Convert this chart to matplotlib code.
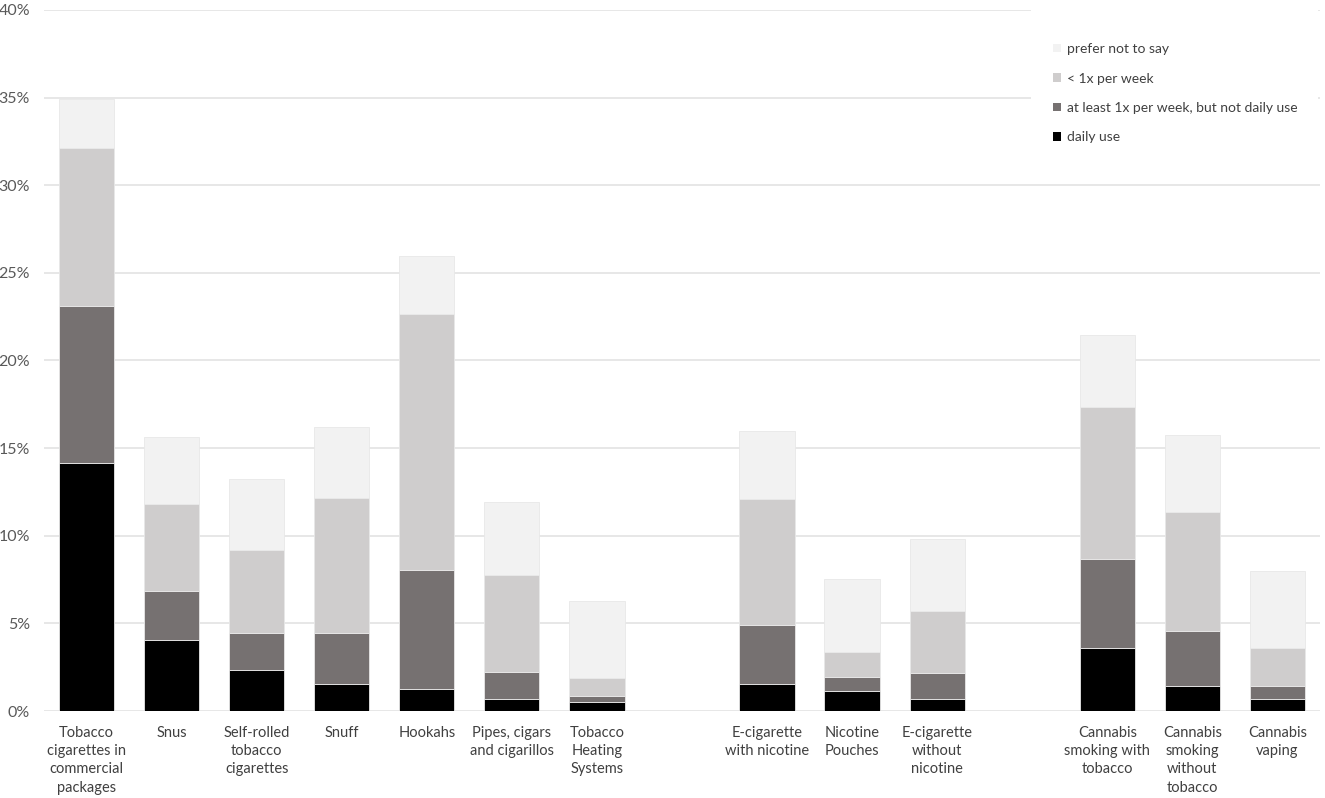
import numpy as np
import matplotlib
matplotlib.use("Agg")
import matplotlib.pyplot as plt
from matplotlib.patches import Patch, Rectangle

plt.rcParams['font.family'] = ['Lato', 'DejaVu Sans']

# categories ('' = empty slot between groups)
cats = ['Tobacco\ncigarettes in\ncommercial\npackages', 'Snus', 'Self-rolled\ntobacco\ncigarettes',
        'Snuff', 'Hookahs', 'Pipes, cigars\nand cigarillos', 'Tobacco\nHeating\nSystems', '',
        'E-cigarette\nwith nicotine', 'Nicotine\nPouches', 'E-cigarette\nwithout\nnicotine', '',
        'Cannabis\nsmoking with\ntobacco', 'Cannabis\nsmoking\nwithout\ntobacco', 'Cannabis\nvaping']

# segment heights in %
daily  = [14.17, 4.05, 2.34, 1.52, 1.24, 0.68, 0.50, 0, 1.56, 1.14, 0.67, 0, 3.60, 1.41, 0.67]
weekly = [8.93, 2.82, 2.13, 2.95, 6.81, 1.55, 0.34, 0, 3.33, 0.82, 1.48, 0, 5.06, 3.16, 0.77]
lessw  = [9.00, 4.93, 4.72, 7.69, 14.61, 5.53, 1.02, 0, 7.21, 1.39, 3.58, 0, 8.67, 6.79, 2.17]
prefer = [2.80, 3.84, 4.05, 4.07, 3.31, 4.19, 4.44, 0, 3.90, 4.18, 4.11, 0, 4.15, 4.39, 4.38]

labels = ['daily use', 'at least 1x per week, but not daily use', '< 1x per week', 'prefer not to say']
colors = ['#000000', '#767171', '#CFCDCD', '#F2F2F2']

fig = plt.figure(figsize=(13.25, 7.98), dpi=100)
ax = fig.add_axes([0.0332, 0.109, 0.963, 0.8786])

x = np.arange(len(cats))
bottom = np.zeros(len(cats))
for vals, lab, col in zip([daily, weekly, lessw, prefer], labels, colors):
    v = np.array(vals)
    ax.bar(x, v, 0.65, bottom=bottom, color=col, edgecolor='#E8E8E8', linewidth=0.6, zorder=3)
    bottom += v

ax.set_xlim(-0.5, len(cats) - 0.5)
ax.set_ylim(0, 40)
ax.set_yticks(np.arange(0, 41, 5))
ax.set_yticklabels([f'{t}%' for t in range(0, 41, 5)], fontsize=11.5, color='#595959')
ax.set_xticks(x)
ax.set_xticklabels(cats, fontsize=10.5, color='#404040', linespacing=1.37)
ax.tick_params(axis='both', length=0)
ax.tick_params(axis='x', pad=11)
ax.tick_params(axis='y', pad=10)
ax.grid(axis='y', color='#E3E3E3', linewidth=1.2, zorder=0)
for s in ax.spines.values():
    s.set_visible(False)

# white legend area hiding the grid behind it
ax.add_patch(Rectangle((0.7735, 0.78), 0.225, 0.24, transform=ax.transAxes,
                       facecolor='white', edgecolor='none', zorder=2, clip_on=False))

handles = [Patch(facecolor=c, edgecolor='none') for c in colors[::-1]]
leg = ax.legend(handles, labels[::-1], loc='upper left', bbox_to_anchor=(0.7907, 0.9525),
                frameon=False, fontsize=10, handlelength=0.55, handleheight=0.55,
                handletextpad=0.45, labelspacing=1.25, borderpad=0, borderaxespad=0,
                labelcolor='#404040')
leg.set_zorder(5)

fig.savefig('out.png', dpi=100)
